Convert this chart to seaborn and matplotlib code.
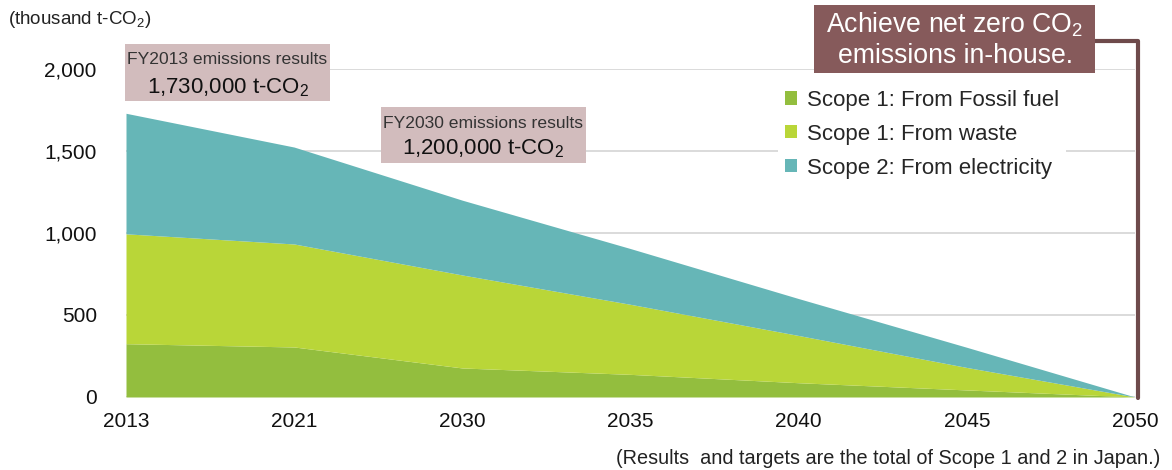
import matplotlib
matplotlib.use("Agg")
import matplotlib.pyplot as plt
from matplotlib.patches import Rectangle
from matplotlib.lines import Line2D
import seaborn as sns
import pandas as pd

# Emissions by source, thousand t-CO2
years = ["2013", "2021", "2030", "2035", "2040", "2045", "2050"]
fossil_fuel = [325, 305, 177, 138, 87, 43, 0]
waste = [670, 628, 567, 427, 288, 137, 0]
electricity = [735, 591, 456, 340, 225, 123, 0]
series_names = ["Scope 1: From Fossil fuel", "Scope 1: From waste", "Scope 2: From electricity"]
series_colors = ["#93BE3E", "#B9D638", "#66B6B7"]
y_ticks = [0, 500, 1000, 1500, 2000]

sns.set_theme(style="white")
plt.rcParams["font.family"] = ["Liberation Sans", "DejaVu Sans"]
plt.rcParams["mathtext.fontset"] = "custom"
plt.rcParams["mathtext.rm"] = "Liberation Sans"
plt.rcParams["mathtext.it"] = "Liberation Sans"

df = pd.DataFrame({"year": years,
                   series_names[0]: fossil_fuel,
                   series_names[1]: waste,
                   series_names[2]: electricity})

W, H = 1172, 470
fig = plt.figure(figsize=(W / 100, H / 100), dpi=100)
ax = fig.add_axes([126 / W, 1 - 397 / H, (1135 - 126) / W, (397 - 69) / H])

xpos = list(range(len(years)))
ax.stackplot(xpos, df[series_names[0]], df[series_names[1]], df[series_names[2]],
             labels=series_names, colors=series_colors, linewidth=0, zorder=2)

ax.set_xlim(0, len(years) - 1)
ax.set_ylim(0, 2000)
ax.set_xticks(xpos)
ax.set_xticklabels(years)
ax.set_yticks(y_ticks)
ax.set_yticklabels([f"{v:,}" for v in y_ticks])
ax.tick_params(axis="x", labelsize=15, pad=11, length=0, colors="#111111")
ax.tick_params(axis="y", labelsize=15, pad=21, length=0, colors="#111111")
ax.yaxis.grid(True, color="#d4d4d4", linewidth=1.2, zorder=0)
ax.set_axisbelow(True)
for s in ax.spines.values():
    s.set_visible(False)

leg = ax.legend(loc="upper left", bbox_to_anchor=((767 - 126) / (1135 - 126), (397 - 72) / (397 - 69)),
                frameon=True, fontsize=16, handlelength=0.55, handleheight=0.55,
                handletextpad=0.45, labelspacing=0.58, borderpad=0.3)
leg.get_frame().set_facecolor("white")
leg.get_frame().set_edgecolor("none")
leg.get_frame().set_alpha(1)


def fx(px):
    return px / W


def fy(py):
    return 1 - py / H


# Unit label
fig.text(fx(8), fy(20), r"(thousand t-CO$_2$)", fontsize=13.5, va="center", ha="left", color="#222222")

# FY2013 result box
fig.add_artist(Rectangle((fx(125), fy(101)), fx(330) - fx(125), fy(44) - fy(101),
                         facecolor="#D2BCBD", edgecolor="none", zorder=5))
fig.text(fx(227), fy(60), "FY2013 emissions results", fontsize=12.6, ha="center", va="center",
         color="#333333", zorder=6)
fig.text(fx(228), fy(88), r"1,730,000 t-CO$_2$", fontsize=16, ha="center", va="center",
         color="#111111", zorder=6)

# FY2030 box
fig.add_artist(Rectangle((fx(381), fy(163)), fx(586) - fx(381), fy(107) - fy(163),
                         facecolor="#D2BCBD", edgecolor="none", zorder=5))
fig.text(fx(483), fy(123), "FY2030 emissions results", fontsize=12.6, ha="center", va="center",
         color="#333333", zorder=6)
fig.text(fx(483), fy(149), r"1,200,000 t-CO$_2$", fontsize=16, ha="center", va="center",
         color="#111111", zorder=6)

# Net zero target callout
fig.add_artist(Line2D([fx(1095), fx(1138), fx(1138)], [fy(41), fy(41), fy(398)],
                      color="#6E4A4B", linewidth=3, zorder=4))
fig.add_artist(Rectangle((fx(814), fy(73)), fx(1095) - fx(814), fy(5) - fy(73),
                         facecolor="#865A5B", edgecolor="none", zorder=5))
fig.text(fx(955), fy(25), r"Achieve net zero CO$_2$", fontsize=19.2, ha="center", va="center",
         color="white", zorder=6)
fig.text(fx(955), fy(56), "emissions in-house.", fontsize=19.2, ha="center", va="center",
         color="white", zorder=6)

# Footnote
fig.text(fx(1160), fy(458), "(Results  and targets are the total of Scope 1 and 2 in Japan.)",
         fontsize=14.3, ha="right", va="center", color="#222222")

fig.savefig("out.png", dpi=100)
